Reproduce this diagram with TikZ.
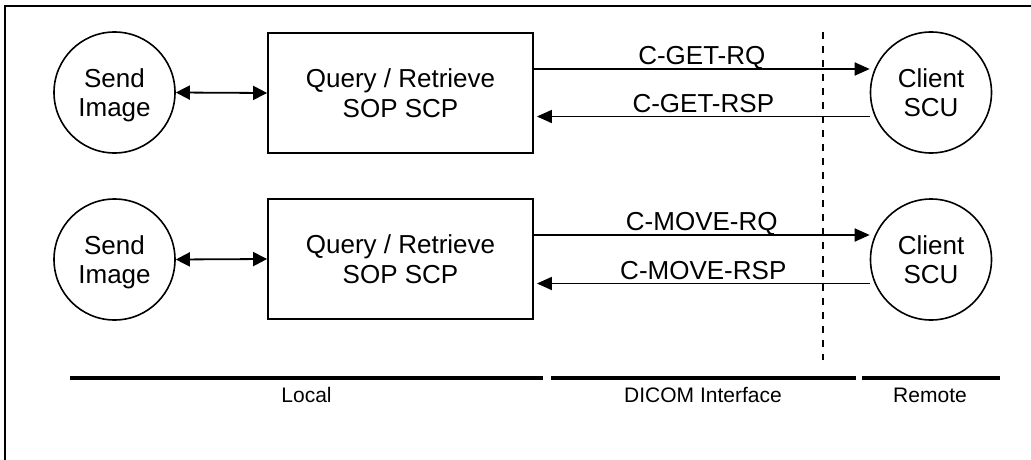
\documentclass[tikz,border=0pt]{standalone}
\usepackage{fontspec}
\setmainfont{Liberation Sans}
\usetikzlibrary{arrows.meta,calc}

\tikzset{
  proc/.style={circle, draw, line width=1.6pt, minimum size=121pt, inner sep=0pt,
    align=center, text depth=0pt, font=\fontsize{26}{29}\selectfont},
  scp/.style={rectangle, draw, line width=1.8pt, minimum width=265pt, minimum height=120pt,
    inner sep=0pt, align=center, font=\fontsize{26}{30}\selectfont},
  msg/.style={line width=1.8pt, -{Triangle[length=15pt,width=13pt]}},
  link/.style={line width=1.8pt, {Triangle[length=14pt,width=14pt]}-{Triangle[length=14pt,width=14pt]}},
  msglabel/.style={font=\fontsize{26}{29}\selectfont, inner sep=0pt, text height=19pt, text depth=0pt},
  zone/.style={line width=3.6pt},
  zonelabel/.style={font=\fontsize{21}{24}\selectfont, inner sep=0pt, text height=15pt, text depth=0pt},
  divider/.style={line width=2pt, dash pattern=on 7pt off 7pt},
}

\begin{document}
\begin{tikzpicture}[x=1pt, y=-1pt]
  \useasboundingbox (0,0) rectangle (1031,460);

  % outer frame (left and top edges)
  \draw[line width=1.8pt] (5,460) -- (5,6) -- (1031,6);

  % interface boundary
  \coordinate (dtop) at (822.5,32);
  \coordinate (dbot) at (822.5,360);
  \draw[divider] (dtop) -- (dbot);

  % C-GET row
  \node[proc] (s1) at (114.5,92.5) {Send\\Image};
  \node[scp]  (q1) at (400.5,93) {Query / Retrieve\\SOP SCP};
  \node[proc] (c1) at (931,92.5) {Client\\SCU};

  \draw[link] (s1.east) -- (q1.west);
  \draw[msg] ([yshift=24pt]q1.east) -- ([yshift=24pt]q1.east -| c1.west)
    node[midway, yshift=14pt, msglabel] {C-GET-RQ};
  \draw[msg] ([yshift=-24pt]c1.west) -- ([yshift=-24pt,xshift=3pt]c1.west -| q1.east)
    node[midway, yshift=14pt, msglabel] {C-GET-RSP};

  % C-MOVE row
  \node[proc] (s2) at (114.5,259.5) {Send\\Image};
  \node[scp]  (q2) at (400.5,259) {Query / Retrieve\\SOP SCP};
  \node[proc] (c2) at (931,259.5) {Client\\SCU};

  \draw[link] (s2.east) -- (q2.west);
  \draw[msg] ([yshift=24pt]q2.east) -- ([yshift=24pt]q2.east -| c2.west)
    node[midway, yshift=14pt, msglabel] {C-MOVE-RQ};
  \draw[msg] ([yshift=-24pt]c2.west) -- ([yshift=-24pt,xshift=3pt]c2.west -| q2.east)
    node[midway, yshift=14pt, msglabel] {C-MOVE-RSP};

  % zone bars and captions
  \coordinate (l0) at (70,378);   \coordinate (l1) at (543,378);
  \coordinate (d0) at (551,378);  \coordinate (d1) at (856,378);
  \coordinate (r0) at (862,378);  \coordinate (r1) at (1000,378);
  \draw[zone] (l0) -- (l1);
  \draw[zone] (d0) -- (d1);
  \draw[zone] (r0) -- (r1);
  \node[zonelabel] (lloc) at (306.5,395) {Local};
  \node[zonelabel] (ldic) at (703,395) {DICOM Interface};
  \node[zonelabel] (lrem) at (930,395) {Remote};
\end{tikzpicture}
\end{document}
